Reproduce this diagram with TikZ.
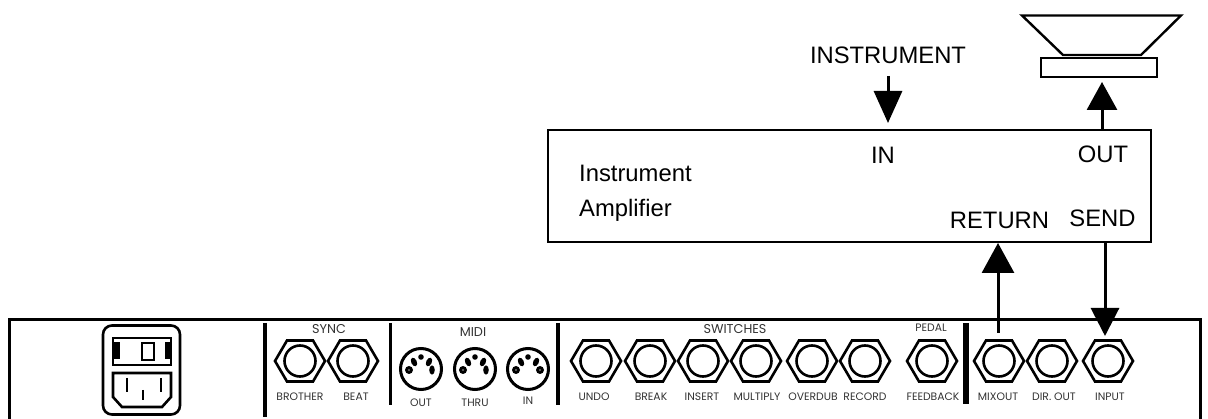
\documentclass[tikz,border=0pt]{standalone}
\usepackage{fontspec}
\setmainfont{Liberation Sans}
\newfontfamily\panelfont{Poppins}
\usetikzlibrary{arrows.meta}
\tikzset{
    x=1pt, y=-1pt,
    wire/.style={line width=3pt},
    bighead/.style 2 args={-{Triangle[length=#1pt,width=#2pt]}}, % the big solid heads
    ampbox/.style={draw, line width=2.8pt, minimum width=603pt, minimum height=112pt},
    biglabel/.style={font=\fontsize{23.8}{24}\selectfont, inner sep=0pt, anchor=base},
    panel/.style={font=\panelfont\fontsize{10.8}{11}\selectfont, text=black!80, inner sep=0pt},
    paneltitle/.style={panel, font=\panelfont\fontsize{12.8}{13}\selectfont},
    jack/.style={draw, circle, line width=2.6pt, minimum size=31pt, inner sep=0pt},
    din/.style={draw, circle, line width=3pt, minimum size=41pt, inner sep=0pt},
    divider/.style={line width=3.2pt},
}
\begin{document}
\begin{tikzpicture}
    \useasboundingbox (0,0) rectangle (1208,419);
    % rear panel
    \draw[line width=3pt] (9,419) -- (9,320) -- (1200,320) -- (1200,419);
    \draw[divider] (265,323) -- (265,417);
    \draw[divider] (390.5,323) -- (390.5,405);
    \draw[divider] (558,323) -- (558,405);
    \draw[line width=6pt] (966,323) -- (966,404);
    % power inlet
    \draw[line width=2.6pt, rounded corners=9pt] (103,325.5) rectangle (180,414.5);
    \draw[line width=2.6pt] (113,338) rectangle (171,365);
    \fill (113,342) rectangle (120,359);
    \fill (165,342) rectangle (170,359);
    \draw[line width=2.4pt] (142,343) rectangle (154,360);
    \draw[line width=2.6pt] (113,373) -- (171,373) -- (171,397) -- (162,407) -- (122,407) -- (113,397) -- cycle;
    \draw[line width=2.4pt] (127,378) -- (127,392) (161,378) -- (161,392) (143,390) -- (143,400);
    % jacks
    \foreach \name/\x/\lx/\txt in {brother/300/300/BROTHER, beat/353/356/BEAT, undo/596/594/UNDO,
        break/650/651/BREAK, insert/703/702/INSERT, multiply/756/757/MULTIPLY, overdub/812/813/OVERDUB,
        record/865/865/RECORD, feedback/932/933/FEEDBACK, mixout/999/998/MIXOUT,
        dirout/1052/1054/DIR. OUT, input/1108/1110/INPUT} {
        \node[jack] (\name) at (\x,361) {};
        \draw[line width=2.6pt] (\x-25,361) -- (\x-13,340.5) -- (\x+13,340.5) -- (\x+25,361) -- (\x+13,381.5) -- (\x-13,381.5) -- cycle;
        \node[panel] (\name lab) at (\lx,397) {\txt};
    }
    % midi sockets
    \foreach \name/\x/\ly/\txt in {out/421/403/OUT, thru/475/403/THRU, in/528/401/IN} {
        \node[din] (\name) at (\x,369) {};
        \node[panel] (\name lab) at (\x,\ly) {\txt};
        \fill (\x,357) circle (2.8pt);
        \fill[rotate around={25:(\x-7,362)}] (\x-7,362) ellipse (2.8pt and 4.6pt);
        \fill[rotate around={-25:(\x+8,362)}] (\x+8,362) ellipse (2.8pt and 4.6pt);
        \fill (\x-12,370) circle (4pt);
        \fill[black!55] (\x-12,370) circle (1.2pt);
    }
    \fill (421+11,370) ellipse (2.8pt and 4.6pt);
    \fill (475+11,370) ellipse (2.8pt and 4.6pt);
    \fill (528+12,370) circle (4pt);
    \fill[black!55] (528+12,370) circle (1.2pt);
    % group titles
    \node[paneltitle] (sync) at (329,329) {SYNC};
    \node[paneltitle] (midi) at (473,332) {MIDI};
    \node[paneltitle] (switches) at (735,329) {SWITCHES};
    \node[panel] (pedal) at (931,328) {PEDAL};
    % amplifier
    \node[ampbox] (amp) at (849.5,186) {};
    \node[biglabel, anchor=base west] (instr) at (579,182) {Instrument};
    \node[biglabel, anchor=base west] (ampl) at (579,217) {Amplifier};
    \node[biglabel] (inlab) at (883,164) {IN};
    \node[biglabel] (outlab) at (1103,163) {OUT};
    \node[biglabel] (retlab) at (999.5,229) {RETURN};
    \node[biglabel] (sendlab) at (1102.5,227) {SEND};
    \node[biglabel] (instrument) at (888,64) {INSTRUMENT};
    % speaker
    \node[draw, line width=2.4pt, minimum width=116pt, minimum height=19pt, inner sep=0pt] (cab) at (1099,67.5) {};
    \draw[line width=2.4pt, line join=miter] (1022,15.5) -- (1181,15.5) -- (1141,55) -- (1063,55) -- cycle;
    % signal path
    \coordinate (instrtop) at (888,76);
    \coordinate (intip) at (888,123);
    \coordinate (outtop) at (1102,130);
    \coordinate (outtip) at (1102,82);
    \coordinate (rettip) at (998,243);
    \coordinate (mixtop) at (998,333);
    \coordinate (sendtop) at (1105,242);
    \coordinate (sendtip) at (1105,336);
    \draw[wire, bighead={32}{28}] (instrtop) -- (intip);
    \draw[wire, bighead={28}{30}] (outtop) -- (outtip);
    \draw[wire, bighead={30}{32}] (mixtop) -- (rettip);
    \draw[wire, bighead={28}{28}] (sendtop) -- (sendtip);
\end{tikzpicture}
\end{document}
